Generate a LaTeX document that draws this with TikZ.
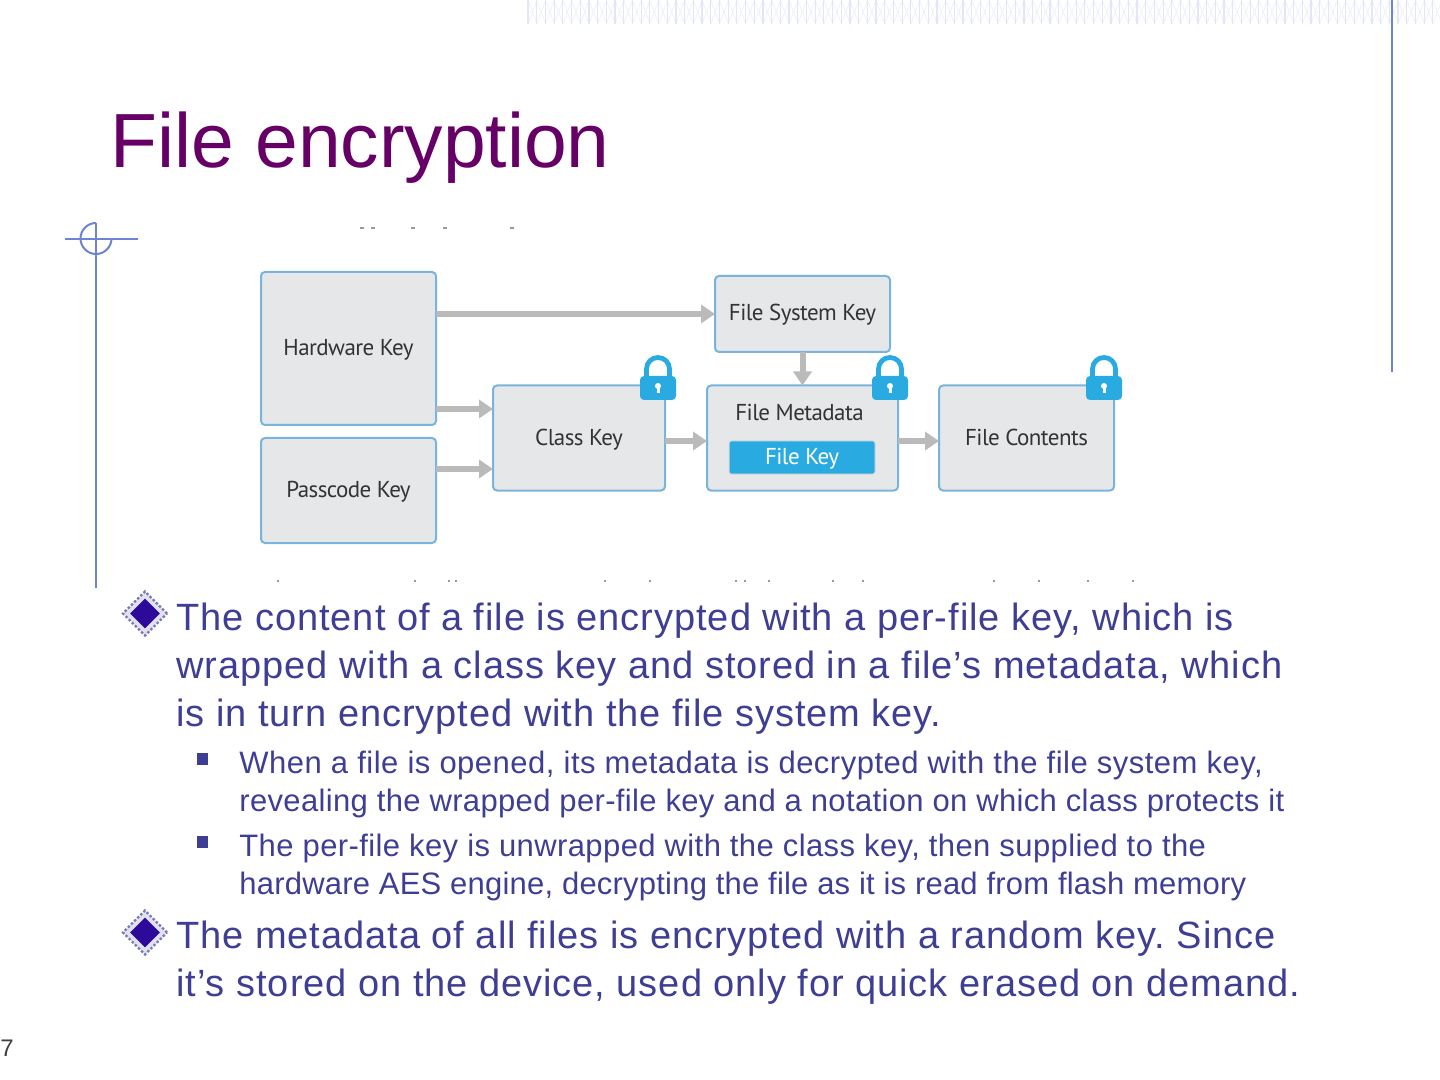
\documentclass[tikz,border=0pt]{standalone}
\usepackage{fontspec}
\usepackage{xcolor}
\setmainfont{Liberation Sans}
\newfontfamily\figfont{PT Sans}
\usetikzlibrary{arrows.meta,shapes.geometric}
\definecolor{titlepurple}{RGB}{102,0,102}
\definecolor{bodyblue}{RGB}{62,62,148}
\definecolor{rulerblue}{RGB}{108,132,212}
\definecolor{boxedge}{RGB}{120,180,220}
\definecolor{boxfill}{RGB}{230,231,233}
\definecolor{keyblue}{RGB}{41,171,226}
\definecolor{flowgray}{RGB}{186,186,186}
\definecolor{hatchblue}{RGB}{226,230,248}
\newcommand{\spaced}[1]{\addfontfeatures{LetterSpace=#1}}
\tikzset{
  keybox/.style={draw=boxedge,fill=boxfill,line width=1pt,rounded corners=2pt,inner sep=0pt,outer sep=0pt,text height=8.5pt,text depth=1.5pt,font=\figfont\fontsize{11.5}{14}\selectfont\spaced{-2.5},text=black!80},
  flow/.style={draw=flowgray,line width=3pt,-{Triangle[length=7pt,width=9pt]}},
  mainline/.style={anchor=base west,inner sep=0pt,text=bodyblue,font=\fontsize{19}{22}\selectfont\frenchspacing\spaced{2.5}},
  subline/.style={anchor=base west,inner sep=0pt,text=bodyblue,font=\fontsize{15.5}{18}\selectfont\frenchspacing},
  ruler/.style={draw=rulerblue,line width=1pt},
  scrap/.style={draw=black!40,line width=0.6pt},
  lockicon/.pic={
    \draw[keyblue,line width=2.4pt] (-11.5,-20) -- (-11.5,-31) arc[start angle=180,end angle=0,radius=5.75pt] -- (11.5,-20);
    \fill[keyblue,rounded corners=2pt] (-18,0) rectangle (18,-24);
    \fill[white] (0,-14) circle[radius=1.5pt];
    \fill[white] (-1.5,-14) rectangle (1.5,-7);
  },
  bigdiamond/.pic={
    \node[diamond,draw=bodyblue!70,densely dotted,line width=1.2pt,fill=bodyblue!15,minimum size=22.5pt,inner sep=0pt] {};
    \node[diamond,fill={rgb,255:red,46;green,10;blue,154},minimum size=15pt,inner sep=0pt] {};
  },
}
\begin{document}
\begin{tikzpicture}[x={(0.5pt,0pt)},y={(0pt,-0.5pt)}]
\useasboundingbox (0,0) rectangle (1440,1080);
% top band
\foreach \i in {0,...,104}{
  \draw[hatchblue!60,line width=0.4pt] ({528+\i*8.7},0) -- ({537+\i*8.7},24);
  \draw[hatchblue!60,line width=0.4pt] ({537+\i*8.7},0) -- ({528+\i*8.7},24);
  \draw[hatchblue,line width=0.6pt] ({528+\i*8.7},0) -- ({528+\i*8.7},24);
}
% rulers
\draw[ruler,line width=1.2pt] (1392,0) -- (1392,372);
\draw[ruler] (96,223) -- (96,588);
\draw[ruler] (65,239) -- (138,239);
\draw[ruler] (96,223) arc[start angle=90,end angle=360,radius=7.75pt];
\node[anchor=base west,inner sep=0pt,text=titlepurple,font=\fontsize{38.4}{44}\selectfont] (title) at (110,168) {File encryption};
% scraps of the cropped figure
\foreach \x in {362,373,413,445,512} \draw[scrap] (\x-2,228) -- (\x+2,228);
\foreach \x in {278,415,449,456,605,650,736,745,769,833,863,994,1039,1088,1133} \draw[scrap] (\x-1,581) -- (\x+1,581);
% boxes
\node[keybox,minimum width=87.5pt,minimum height=76.5pt] (hw) at (348.5,348.5) {Hardware Key};
\node[keybox,minimum width=87.5pt,minimum height=52.5pt] (pc) at (348.5,490.5) {Passcode Key\hspace{2pt}};
\node[keybox,minimum width=86pt,minimum height=52.5pt] (cl) at (579,438) {Class Key\hspace{3pt}};
\node[keybox,minimum width=87.5pt,minimum height=38pt] (fs) at (802.5,314) {File System Key};
\node[keybox,minimum width=95.5pt,minimum height=52.5pt] (md) at (802.5,438) {};
\node[inner sep=0pt,text height=8.5pt,text depth=1.5pt,text=black!80,font=\figfont\fontsize{11.5}{14}\selectfont\spaced{-2.5}] (mdtext) at (799.5,413.5) {File Metadata};
\node[fill=keyblue,draw=black!15,line width=0.5pt,rounded corners=1pt,minimum width=73pt,minimum height=16.5pt,inner sep=0pt,text height=8.5pt,text depth=1.5pt,text=white,font=\figfont\fontsize{11.5}{14}\selectfont\spaced{-2.5}] (fk) at (802,457.5) {File Key\hspace{2pt}};
\node[keybox,minimum width=87.5pt,minimum height=52.5pt] (fc) at (1026.5,438) {File Contents};
% arrows
\coordinate (clin1) at (493,409);
\coordinate (clin2) at (493,469);
\draw[flow] (hw.east |- fs.west) -- (fs.west);
\draw[flow] (hw.east |- clin1) -- (clin1);
\draw[flow] (pc.east |- clin2) -- (clin2);
\draw[flow] (cl.east |- 0,441) -- (md.west |- 0,441);
\draw[flow] (md.east |- 0,441) -- (fc.west |- 0,441);
\draw[flow] (fs.south) -- (md.north -| fs.south);
% locks
\pic at (658,400) {lockicon};
\pic at (890,400) {lockicon};
\pic at (1104,400) {lockicon};
% text
\pic at (145,613.5) {bigdiamond};
\node[mainline] (a1) at (176,630) {The content of a file is encrypted with a per-file key, which is};
\node[mainline] (a2) at (176,678) {wrapped with a class key and stored in a file’s metadata, which};
\node[mainline] (a3) at (176,726) {is in turn encrypted with the file system key.};
\fill[bodyblue] (197,753) rectangle (208,765);
\node[subline] (b1) at (239,773) {\spaced{1.6}When a file is opened, its metadata is decrypted with the file system key,};
\node[subline] (b2) at (239,811) {\spaced{1.1}revealing the wrapped per-file key and a notation on which class protects it};
\fill[bodyblue] (197,836) rectangle (208,848);
\node[subline] (c1) at (239,856) {\spaced{1.3}The per-file key is unwrapped with the class key, then supplied to the};
\node[subline] (c2) at (239,894) {\spaced{0.7}hardware AES engine, decrypting the file as it is read from flash memory};
\pic at (145,932.5) {bigdiamond};
\node[mainline] (d1) at (176,948) {The metadata of all files is encrypted with a random key. Since};
\node[mainline] (d2) at (176,996) {it’s stored on the device, used only for quick erased on demand.};
\node[anchor=base west,inner sep=0pt,text=black!75,font=\fontsize{12}{14}\selectfont] (pageno) at (0,1056) {7};
\end{tikzpicture}
\end{document}
